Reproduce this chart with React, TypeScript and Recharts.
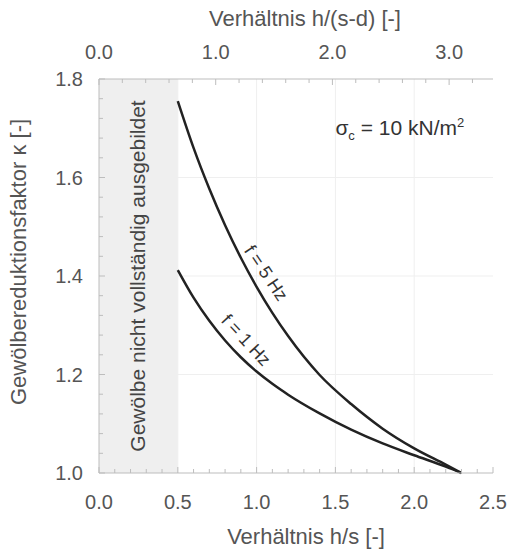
import { LineChart, Line, XAxis, YAxis, ReferenceArea, ReferenceDot, ReferenceLine } from "recharts";

// h/s values and kappa for both frequencies
const hs = [0.5, 0.6, 0.7, 0.8, 0.9, 1.0, 1.1, 1.2, 1.4, 1.6, 1.8, 2.0, 2.2, 2.3];
const kappa1Hz = [1.412, 1.356, 1.309, 1.269, 1.235, 1.206, 1.181, 1.159, 1.121, 1.088, 1.06, 1.036, 1.013, 1.0];
const kappa5Hz = [1.755, 1.66, 1.577, 1.503, 1.437, 1.378, 1.325, 1.278, 1.199, 1.14, 1.09, 1.05, 1.017, 1.0];

const bottomTicks = [0, 0.1, 0.2, 0.3, 0.4, 0.5, 0.6, 0.7, 0.8, 0.9, 1.0, 1.1, 1.2, 1.3, 1.4, 1.5, 1.6, 1.7, 1.8, 1.9, 2.0, 2.1, 2.2, 2.3, 2.4, 2.5];
const bottomLabels = [0, 0.5, 1.0, 1.5, 2.0, 2.5];
const topTicks = [0, 0.2, 0.4, 0.6, 0.8, 1.0, 1.2, 1.4, 1.6, 1.8, 2.0, 2.2, 2.4, 2.6, 2.8, 3.0, 3.2];
const topLabels = [0, 1, 2, 3];
const yTicks = [1.0, 1.04, 1.08, 1.12, 1.16, 1.2, 1.24, 1.28, 1.32, 1.36, 1.4, 1.44, 1.48, 1.52, 1.56, 1.6, 1.64, 1.68, 1.72, 1.76, 1.8];
const yLabels = [1.0, 1.2, 1.4, 1.6, 1.8];

const data = hs.map((h, i) => ({ h, f1: kappa1Hz[i], f5: kappa5Hz[i] }));

const FONT = "'Liberation Sans', Arial, sans-serif";
const TXT = "#555";
const FRAME = "#bdbdbd";

const isIn = (list: number[], v: number) => list.some((m) => Math.abs(m - v) < 1e-6);

function makeTick(side: "bottom" | "top" | "left" | "right", labels: number[]) {
  return (props: any) => {
    const { x, y, payload } = props;
    const v = payload.value;
    const major = isIn(labels, v);
    const len = major ? 6 : 4;
    const txt = v.toFixed(1);
    if (side === "bottom")
      return (
        <g>
          <line x1={x} y1={y} x2={x} y2={y - len} stroke={FRAME} />
          {major && (
            <text x={x} y={y + 36} textAnchor="middle" fontSize={20} fill={TXT} fontFamily={FONT}>{txt}</text>
          )}
        </g>
      );
    if (side === "top")
      return (
        <g>
          <line x1={x} y1={y} x2={x} y2={y + len} stroke={FRAME} />
          {major && (
            <text x={x} y={y - 20} textAnchor="middle" fontSize={20} fill={TXT} fontFamily={FONT}>{txt}</text>
          )}
        </g>
      );
    if (side === "left")
      return (
        <g>
          <line x1={x} y1={y} x2={x + len} y2={y} stroke={FRAME} />
          {major && (
            <text x={x - 16} y={y + 7} textAnchor="end" fontSize={20} fill={TXT} fontFamily={FONT}>{txt}</text>
          )}
        </g>
      );
    return <line x1={x} y1={y} x2={x - len} y2={y} stroke={FRAME} />;
  };
}

export default function App() {
  return (
    <div style={{ position: "absolute", left: 0, top: 0, background: "#fff" }}>
      <LineChart width={513} height={551} data={data} margin={{ top: 29, right: 20, bottom: 0, left: 39 }}>
        <ReferenceArea xAxisId="b" yAxisId="l" x1={0} x2={0.5} y1={1.0} y2={1.8} fill="#efefef" fillOpacity={1} stroke="none" />
        {[0.5, 1.0, 1.5, 2.0].map((v) => (
          <ReferenceLine key={"vx" + v} xAxisId="b" yAxisId="l" x={v} stroke="#efefef" />
        ))}
        {[1.2, 1.4, 1.6].map((v) => (
          <ReferenceLine key={"hy" + v} xAxisId="b" yAxisId="l" y={v} stroke="#efefef" />
        ))}
        <XAxis
          xAxisId="b"
          dataKey="h"
          type="number"
          domain={[0, 2.5]}
          ticks={bottomTicks}
          interval={0}
          height={78}
          tickSize={0}
          tickMargin={0}
          tickLine={false}
          axisLine={{ stroke: FRAME }}
          tick={makeTick("bottom", bottomLabels)}
          label={(p: any) => {
            const vb = p.viewBox;
            return (
              <text x={vb.x + vb.width / 2 + 10} y={vb.y + 71} textAnchor="middle" fontSize={22} fill={TXT} fontFamily={FONT}>
                Verhältnis h/s [-]
              </text>
            );
          }}
        />
        <XAxis
          xAxisId="t"
          dataKey="hsd"
          orientation="top"
          type="number"
          domain={[0, 3.376]}
          allowDataOverflow
          ticks={topTicks}
          interval={0}
          height={50}
          tickSize={0}
          tickMargin={0}
          tickLine={false}
          axisLine={{ stroke: FRAME }}
          tick={makeTick("top", topLabels)}
          label={(p: any) => {
            const vb = p.viewBox;
            return (
              <text x={vb.x + vb.width / 2 + 9} y={26} textAnchor="middle" fontSize={22} fill={TXT} fontFamily={FONT}>
                Verhältnis h/(s-d) [-]
              </text>
            );
          }}
        />
        <YAxis
          yAxisId="l"
          type="number"
          domain={[1.0, 1.8]}
          ticks={yTicks}
          interval={0}
          width={60}
          tickSize={0}
          tickMargin={0}
          tickLine={false}
          axisLine={{ stroke: FRAME }}
          tick={makeTick("left", yLabels)}
          label={(p: any) => {
            const vb = p.viewBox;
            const cx = 26;
            const cy = vb.y + vb.height / 2 - 14;
            return (
              <text x={cx} y={cy} transform={`rotate(-90 ${cx} ${cy})`} textAnchor="middle" fontSize={22} fill={TXT} fontFamily={FONT}>
                Gewölbereduktionsfaktor κ [-]
              </text>
            );
          }}
        />
        <YAxis
          yAxisId="r"
          orientation="right"
          type="number"
          domain={[1.0, 1.8]}
          ticks={yTicks}
          interval={0}
          width={0}
          tickSize={0}
          tickMargin={0}
          tickLine={false}
          axisLine={{ stroke: FRAME }}
          tick={makeTick("right", [])}
        />
        <Line xAxisId="b" yAxisId="l" type="monotone" dataKey="f5" stroke="#222" strokeWidth={2.5} dot={false} isAnimationActive={false} />
        <Line xAxisId="b" yAxisId="l" type="monotone" dataKey="f1" stroke="#222" strokeWidth={2.5} dot={false} isAnimationActive={false} />
        <ReferenceDot
          xAxisId="b"
          yAxisId="l"
          x={0.25}
          y={1.4}
          r={0}
          shape={(p: any) => (
            <text x={p.cx + 7} y={p.cy} transform={`rotate(-90 ${p.cx + 7} ${p.cy})`} textAnchor="middle" fontSize={21} fill="#444" fontFamily={FONT}>
              Gewölbe nicht vollständig ausgebildet
            </text>
          )}
        />
        <ReferenceDot
          xAxisId="b"
          yAxisId="l"
          x={1.06}
          y={1.406}
          r={0}
          shape={(p: any) => (
            <text x={p.cx} y={p.cy + 6} transform={`rotate(56 ${p.cx} ${p.cy})`} textAnchor="middle" fontSize={18} fill="#333" fontFamily={FONT}>
              f = 5 Hz
            </text>
          )}
        />
        <ReferenceDot
          xAxisId="b"
          yAxisId="l"
          x={0.933}
          y={1.27}
          r={0}
          shape={(p: any) => (
            <text x={p.cx} y={p.cy + 6} transform={`rotate(47 ${p.cx} ${p.cy})`} textAnchor="middle" fontSize={18} fill="#333" fontFamily={FONT}>
              f = 1 Hz
            </text>
          )}
        />
        <ReferenceDot
          xAxisId="b"
          yAxisId="l"
          x={1.5}
          y={1.7}
          r={0}
          shape={(p: any) => (
            <text x={p.cx} y={p.cy + 7} fontSize={21} fill="#333" fontFamily={FONT}>
              σ<tspan fontSize={13} dy={5}>c</tspan>
              <tspan dy={-5}> = 10 kN/m</tspan>
              <tspan fontSize={13} dy={-8}>2</tspan>
            </text>
          )}
        />
      </LineChart>
    </div>
  );
}
